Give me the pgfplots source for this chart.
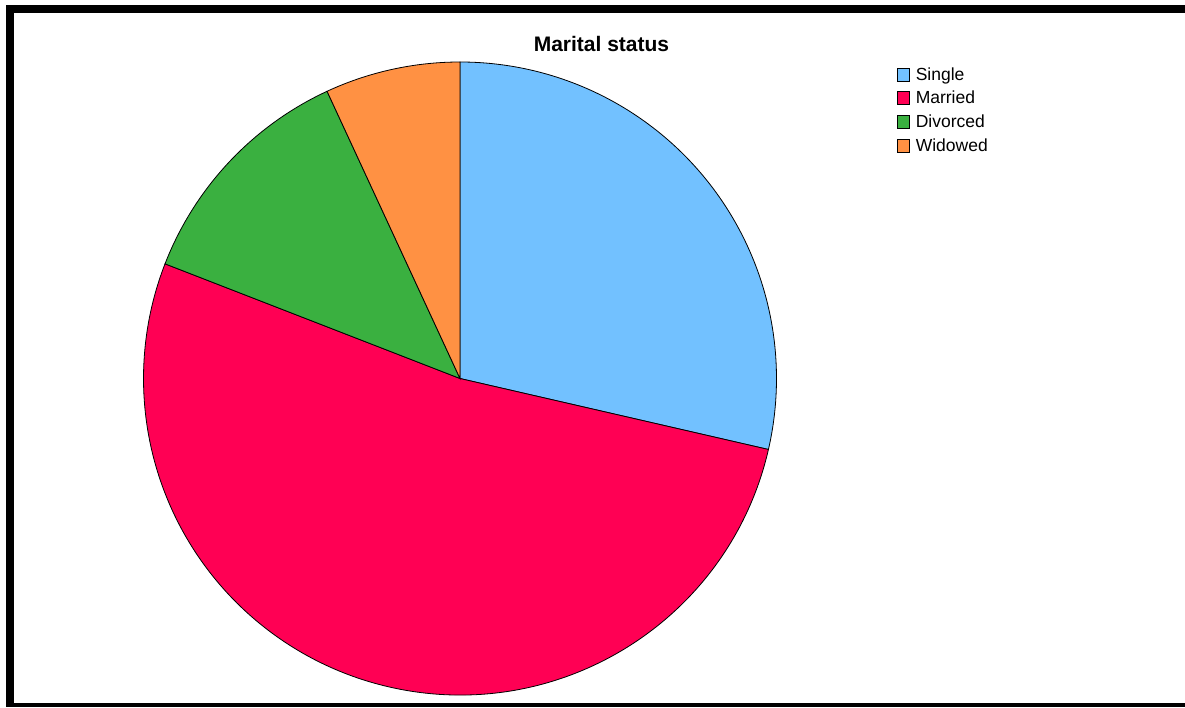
\documentclass[border=0pt]{standalone}
\usepackage{pgfplots}
\pgfplotsset{compat=1.18}
\usepackage{fontspec}
\setmainfont{Liberation Sans}
\definecolor{cSingle}{RGB}{114,193,255}
\definecolor{cMarried}{RGB}{255,0,84}
\definecolor{cDivorced}{RGB}{58,176,64}
\definecolor{cWidowed}{RGB}{255,145,67}
% percentages
\def\vSingle{28.6}
\def\vMarried{52.3}
\def\vDivorced{12.2}
\def\vWidowed{6.9}
\pgfmathsetmacro{\aA}{90}
\pgfmathsetmacro{\aB}{\aA-3.6*\vSingle}
\pgfmathsetmacro{\aC}{\aB-3.6*\vMarried}
\pgfmathsetmacro{\aD}{\aC-3.6*\vDivorced}
\pgfmathsetmacro{\aE}{\aD-3.6*\vWidowed}
\begin{document}
\begin{tikzpicture}[x=1pt,y=1pt]
\useasboundingbox (0,0) rectangle (1185,707);
\fill[white] (0,0) rectangle (1185,707);
\fill[black] (6,694) rectangle (1185,702);
\fill[black] (6,0) rectangle (14,702);
\fill[black] (6,0) rectangle (1185,4);
\node[font=\fontsize{21}{25}\selectfont\bfseries] at (601.5pt,663pt) {Marital status};
\begin{axis}[at={(460pt,328.5pt)}, anchor=center, scale only axis,
  width=633pt, height=633pt, xmin=-1, xmax=1, ymin=-1, ymax=1,
  hide axis, clip=false,
  legend style={at={(1.19,0.995)}, anchor=north west, draw=none, fill=none,
    font=\fontsize{17.5}{20}\selectfont, inner sep=0pt, row sep=5.5pt,
    cells={anchor=west},
    /tikz/every odd column/.append style={column sep=4pt}},
  legend image code/.code={\draw[#1,line width=0.8pt] (0pt,-6.5pt) rectangle (12pt,6.5pt);},
]
\fill[cSingle, draw=black, line width=0.8pt] (axis cs:0,0) -- (axis cs:{cos(\aA)},{sin(\aA)}) arc[start angle=\aA, end angle=\aB, radius=1] -- cycle;
\fill[cMarried, draw=black, line width=0.8pt] (axis cs:0,0) -- (axis cs:{cos(\aB)},{sin(\aB)}) arc[start angle=\aB, end angle=\aC, radius=1] -- cycle;
\fill[cDivorced, draw=black, line width=0.8pt] (axis cs:0,0) -- (axis cs:{cos(\aC)},{sin(\aC)}) arc[start angle=\aC, end angle=\aD, radius=1] -- cycle;
\fill[cWidowed, draw=black, line width=0.8pt] (axis cs:0,0) -- (axis cs:{cos(\aD)},{sin(\aD)}) arc[start angle=\aD, end angle=\aE, radius=1] -- cycle;
\addlegendimage{fill=cSingle, draw=black}
\addlegendentry{Single}
\addlegendimage{fill=cMarried, draw=black}
\addlegendentry{Married}
\addlegendimage{fill=cDivorced, draw=black}
\addlegendentry{Divorced}
\addlegendimage{fill=cWidowed, draw=black}
\addlegendentry{Widowed}
\end{axis}
\end{tikzpicture}
\end{document}
